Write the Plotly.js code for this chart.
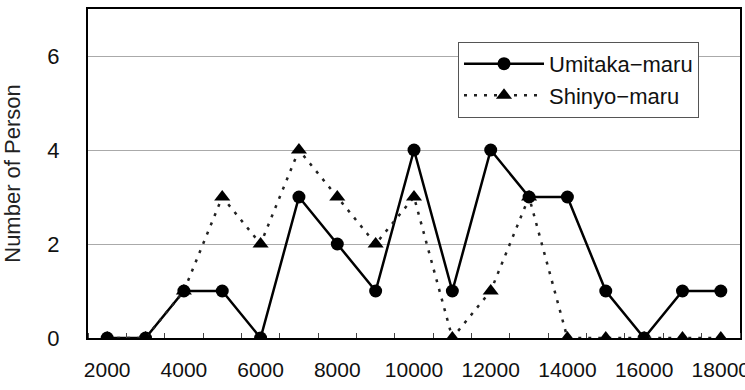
<!DOCTYPE html>
<html><head><meta charset="utf-8">
<script src="https://cdn.plot.ly/plotly-3.0.1.min.js"></script>
<style>html,body{margin:0;padding:0;background:#fff}#c{width:745px;height:390px}</style>
</head><body><div id="c"></div>
<script>
const categories = [2000,3000,4000,5000,6000,7000,8000,9000,10000,11000,12000,13000,14000,15000,16000,17000,18000];
const umitaka = [0,0,1,1,0,3,2,1,4,1,4,3,3,1,0,1,1];
const shinyo = [0,0,1,3,2,4,3,2,3,0,1,3,0,0,0,0,0];
const xTickLabels = [2000,4000,6000,8000,10000,12000,14000,16000,18000];
const yTickLabels = [0,2,4,6];

const font = "Liberation Sans, Arial, sans-serif";
const traces = [
  {x: categories, y: umitaka, name: "Umitaka\u2212maru", mode: "lines+markers",
   line: {color: "#000", width: 2.5}, marker: {symbol: "circle", size: 13, color: "#000"}},
  {x: categories, y: shinyo, name: "Shinyo\u2212maru", mode: "lines+markers",
   line: {color: "#222", width: 2.5, dash: "3px,7px"}, marker: {symbol: "triangle-up", size: 14, color: "#000"}}
];
const layout = {
  width: 745, height: 390,
  margin: {l: 88, r: 5, t: 9, b: 52},
  paper_bgcolor: "#fff", plot_bgcolor: "#fff",
  font: {family: font, color: "#111"},
  showlegend: true,
  legend: {x: 0.5675, y: 0.9, xanchor: "left", yanchor: "top", bgcolor: "#fff",
    bordercolor: "#555", borderwidth: 1, font: {size: 22, family: font, color: "#111"},
    itemwidth: 80, tracegroupgap: 0},
  xaxis: {range: [1500, 18500], tickvals: xTickLabels, ticktext: xTickLabels.map(String),
    showgrid: false, zeroline: false, showline: true, linecolor: "#000", linewidth: 2, mirror: true,
    ticks: "", ticklabelstandoff: 12, ticklabeloverflow: "allow",
    tickfont: {size: 21, family: font, color: "#111"},
    minor: {tick0: 1500, dtick: 1000, ticks: "inside", ticklen: 5, tickcolor: "#444", showgrid: false}},
  yaxis: {range: [0, 7], tickvals: yTickLabels, showgrid: true, gridcolor: "#aaa", gridwidth: 1,
    zeroline: false, showline: true, linecolor: "#000", linewidth: 2, mirror: true, ticks: "",
    ticklabelstandoff: 22, tickfont: {size: 22, family: font, color: "#111"},
    title: {text: "Number of Person", font: {size: 22, family: font, color: "#222"}, standoff: 22}}
};
Plotly.newPlot("c", traces, layout, {displayModeBar: false, staticPlot: true});
</script></body></html>
